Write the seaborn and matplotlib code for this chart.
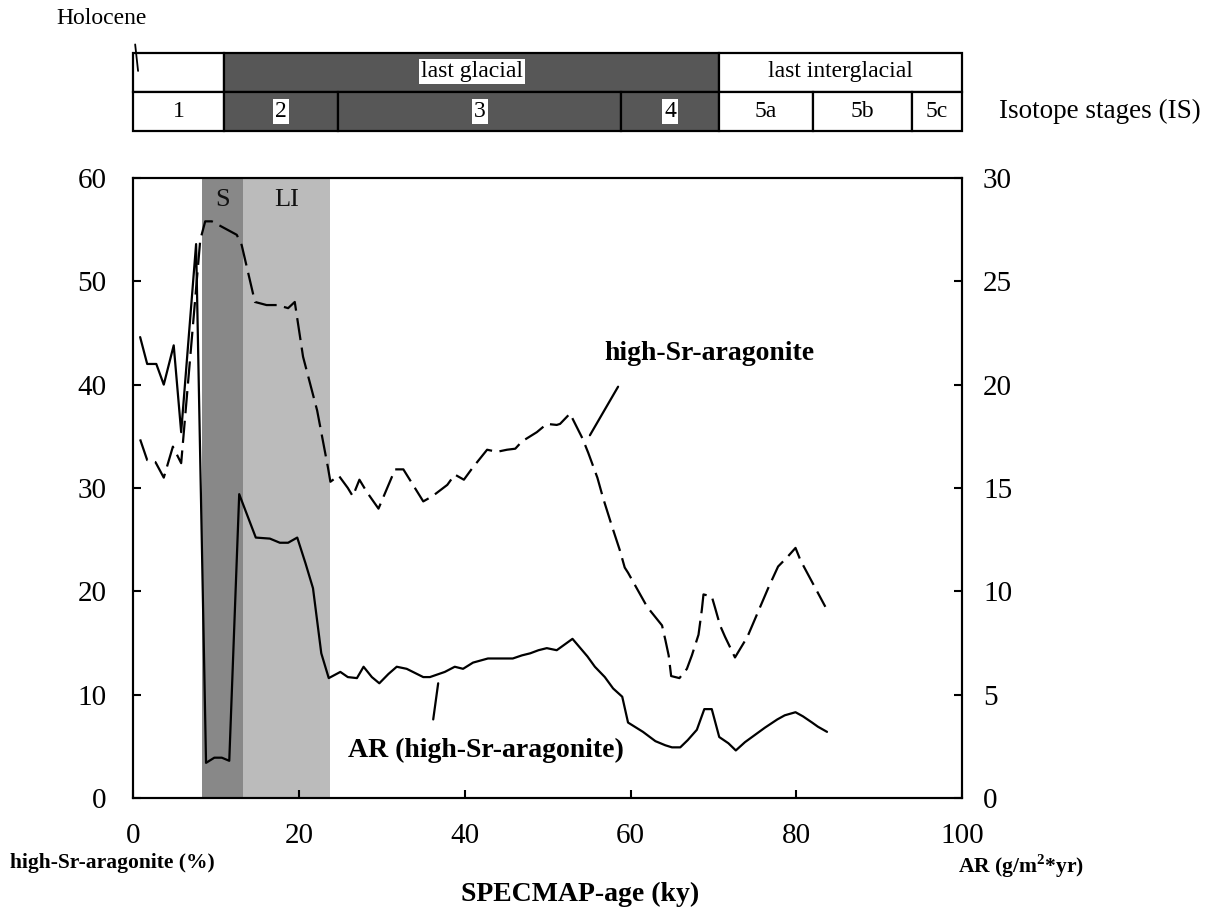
import matplotlib
matplotlib.use("Agg")
import matplotlib.pyplot as plt
import seaborn as sns
import pandas as pd

# ---------------- data ----------------
# high-Sr-aragonite (%) vs SPECMAP age (ky)
sr_age = [0.85, 1.7, 2.7, 3.7, 4.8, 5.8, 8.1, 8.7, 9.5, 12.5, 13.1, 14.7, 16.1, 17.4, 18.7,
          19.5, 20.5, 22.2, 23.5, 23.8, 24.8, 25.9, 26.5, 27.3, 28.2, 29.6, 31.6, 32.6, 35.0,
          36.1, 37.9, 38.8, 39.9, 40.9, 42.7, 43.9, 45.1, 46.1, 46.9, 47.9, 48.7, 49.9, 51.1,
          51.5, 52.7, 54.2, 54.9, 56.0, 56.7, 57.8, 58.7, 59.3, 59.7, 62.0, 63.8, 64.2, 64.6,
          64.9, 65.9, 66.8, 67.4, 68.2, 68.6, 68.8, 69.8, 70.2, 70.8, 71.4, 72.6, 74.1, 76.6,
          77.8, 78.9, 79.9, 80.5, 81.9, 83.5]
sr_pct = [34.7, 32.7, 32.5, 31.0, 34.0, 32.4, 54.0, 55.8, 55.8, 54.5, 53.5, 48.0, 47.7, 47.7, 47.4,
          48.0, 42.7, 37.5, 32.0, 30.6, 31.2, 30.0, 29.2, 30.8, 29.6, 28.0, 31.8, 31.8, 28.7,
          29.2, 30.3, 31.3, 30.8, 31.9, 33.7, 33.5, 33.7, 33.8, 34.5, 35.0, 35.4, 36.2, 36.1,
          36.2, 37.2, 34.8, 33.4, 31.0, 29.0, 26.2, 24.0, 22.3, 21.8, 18.5, 16.7, 15.3, 13.8,
          11.8, 11.6, 12.5, 13.8, 15.8, 18.2, 19.7, 19.5, 18.4, 16.7, 15.6, 13.6, 15.6, 20.3,
          22.4, 23.3, 24.2, 23.0, 20.9, 18.5]

# accumulation rate AR (g/m2*yr) vs SPECMAP age (ky)
ar_age = [0.85, 1.7, 2.8, 3.7, 4.9, 5.8, 7.6, 8.8, 9.8, 10.7, 11.6, 12.8, 14.8, 16.5, 17.7,
          18.7, 19.8, 20.8, 21.7, 22.7, 23.6, 25.0, 25.9, 27.0, 27.8, 28.8, 29.7, 30.8, 31.8,
          33.0, 34.0, 35.0, 35.8, 37.6, 38.8, 39.8, 41.0, 42.8, 45.8, 46.9, 47.9, 48.9, 49.9,
          51.1, 53.0, 54.8, 55.7, 56.9, 57.9, 59.0, 59.7, 61.5, 63.0, 64.2, 65.0, 66.0, 66.9,
          68.0, 68.9, 69.8, 70.7, 71.8, 72.7, 73.8, 75.0, 76.2, 77.7, 78.6, 79.9, 80.8, 81.9,
          82.6, 83.7]
ar_val = [22.3, 21.0, 21.0, 20.0, 21.9, 17.7, 26.8, 1.7, 1.95, 1.95, 1.8, 14.7, 12.6, 12.55, 12.35,
          12.35, 12.6, 11.35, 10.15, 7.0, 5.8, 6.1, 5.85, 5.8, 6.35, 5.85, 5.55, 6.0, 6.35,
          6.25, 6.05, 5.85, 5.85, 6.1, 6.35, 6.25, 6.55, 6.75, 6.75, 6.9, 7.0, 7.15, 7.25,
          7.15, 7.7, 6.85, 6.35, 5.85, 5.3, 4.9, 3.65, 3.2, 2.75, 2.55, 2.45, 2.45, 2.8,
          3.3, 4.3, 4.3, 2.95, 2.65, 2.3, 2.7, 3.05, 3.4, 3.8, 4.0, 4.15, 3.95, 3.65,
          3.45, 3.2]

# shaded intervals (ky)
shade_names = ["S", "LI"]
shade_start = [8.3, 13.3]
shade_end = [13.3, 23.8]
shade_colors = ["#888888", "#bbbbbb"]

# climatic periods (top row)
period_names = ["", "last glacial", "last interglacial"]
period_start = [0, 11.0, 70.7]
period_end = [11.0, 70.7, 100]
period_dark = [False, True, False]

# isotope stages (second row)
stage_names = ["1", "2", "3", "4", "5a", "5b", "5c"]
stage_start = [0, 11.0, 24.7, 58.9, 70.7, 82.0, 93.9]
stage_end = [11.0, 24.7, 58.9, 70.7, 82.0, 93.9, 100]
stage_dark = [False, True, True, True, False, False, False]

left_ticks = [0, 10, 20, 30, 40, 50, 60]
right_ticks = [0, 5, 10, 15, 20, 25, 30]
x_ticks = [0, 20, 40, 60, 80, 100]

# ---------------- style ----------------
sns.set_theme(style="white")
plt.rcParams["font.family"] = ["Liberation Serif", "DejaVu Serif"]
plt.rcParams["mathtext.fontset"] = "custom"
plt.rcParams["mathtext.rm"] = "Liberation Serif"
plt.rcParams["mathtext.bf"] = "Liberation Serif:bold"
for k in ("text.color", "axes.labelcolor", "xtick.color", "ytick.color"):
    plt.rcParams[k] = "black"

FS = 21
DARK = "#575757"
LW = 1.6

fig = plt.figure(figsize=(12.21, 9.22), dpi=100)
ax = fig.add_axes([0.109, 0.1345, 0.679, 0.6725])
ax2 = ax.twinx()

# shaded intervals
for name, s, e, c in zip(shade_names, shade_start, shade_end, shade_colors):
    ax.axvspan(s, e, color=c, lw=0, zorder=0)
    ax.text((s + e) / 2, 57.9, name, ha="center", va="center", fontsize=19, color="#111111")

sr_df = pd.DataFrame({"age": sr_age, "pct": sr_pct})
ar_df = pd.DataFrame({"age": ar_age, "ar": ar_val})

sns.lineplot(data=sr_df, x="age", y="pct", ax=ax, color="black", lw=LW, sort=False,
             estimator=None)
ax.lines[-1].set_dashes([10, 3.4])
sns.lineplot(data=ar_df, x="age", y="ar", ax=ax2, color="black", lw=LW, sort=False,
             estimator=None)

ax.set_xlim(0, 100)
ax.set_ylim(0, 60)
ax2.set_ylim(0, 30)
ax.set_xticks(x_ticks)
ax.set_yticks(left_ticks)
ax2.set_yticks(right_ticks)
ax.set_xlabel("")
ax.set_ylabel("")
ax2.set_ylabel("")
ax.tick_params(axis="x", direction="in", length=6, width=1.5, pad=18, labelsize=FS,
               bottom=True, top=False)
ax.tick_params(axis="y", direction="in", length=6, width=1.5, pad=19, labelsize=FS, left=True)
ax2.tick_params(axis="y", direction="in", length=6, width=1.5, pad=15, labelsize=FS, right=True)
for a in (ax, ax2):
    for sp in a.spines.values():
        sp.set_linewidth(1.5)
        sp.set_color("black")
    a.patch.set_alpha(0)

# annotations inside main axes
ax.text(69.5, 43.0, "high-Sr-aragonite", ha="center", va="center", fontsize=20,
        fontweight="bold")
ax.plot([55.1, 58.5], [35.1, 39.8], color="black", lw=LW)
ax.text(42.6, 4.6, "AR (high-Sr-aragonite)", ha="center", va="center", fontsize=20,
        fontweight="bold")
ax.plot([36.8, 36.2], [11.1, 7.6], color="black", lw=LW)

# ---------------- top stage boxes ----------------
axt = fig.add_axes([0.109, 0.858, 0.679, 0.0845])
axt.set_xlim(0, 100)
axt.set_ylim(0, 2)
axt.axis("off")

bars = axt.barh([1.5] * len(period_names), [e - s for s, e in zip(period_start, period_end)],
                left=period_start, height=1,
                color=[DARK if d else "white" for d in period_dark],
                edgecolor="black", linewidth=1.6)
for b in bars:
    b.set_clip_on(False)
for name, s, e, d in zip(period_names, period_start, period_end, period_dark):
    if name:
        bbox = dict(facecolor="white", edgecolor="none", pad=1.5) if d else None
        axt.text((s + e) / 2, 1.52, name, ha="center", va="center", fontsize=17, bbox=bbox)

bars = axt.barh([0.5] * len(stage_names), [e - s for s, e in zip(stage_start, stage_end)],
                left=stage_start, height=1,
                color=[DARK if d else "white" for d in stage_dark],
                edgecolor="black", linewidth=1.6)
for b in bars:
    b.set_clip_on(False)
for name, s, e, d in zip(stage_names, stage_start, stage_end, stage_dark):
    bbox = dict(facecolor="white", edgecolor="none", pad=1.5) if d else None
    axt.text((s + e) / 2, 0.5, name, ha="center", va="center", fontsize=17, bbox=bbox)

axt.text(104.5, 0.5, "Isotope stages (IS)", ha="left", va="center", fontsize=19.5,
         clip_on=False)
axt.plot([0.25, 0.6], [2.22, 1.54], color="black", lw=1.3, clip_on=False)
fig.text(102 / 1221, 1 - 18 / 922, "Holocene", ha="center", va="center", fontsize=17)

# ---------------- outer labels ----------------
fig.text(10 / 1221, 1 - 863 / 922, "high-Sr-aragonite (%)", ha="left", va="center",
         fontsize=15.5, fontweight="bold")
fig.text(580 / 1221, 1 - 894 / 922, "SPECMAP-age (ky)", ha="center", va="center",
         fontsize=20, fontweight="bold")
fig.text(958 / 1221, 1 - 866 / 922, r"AR (g/m$^{\mathbf{2}}$*yr)", ha="left", va="center",
         fontsize=15.5, fontweight="bold")

fig.savefig("out.png", dpi=100)
